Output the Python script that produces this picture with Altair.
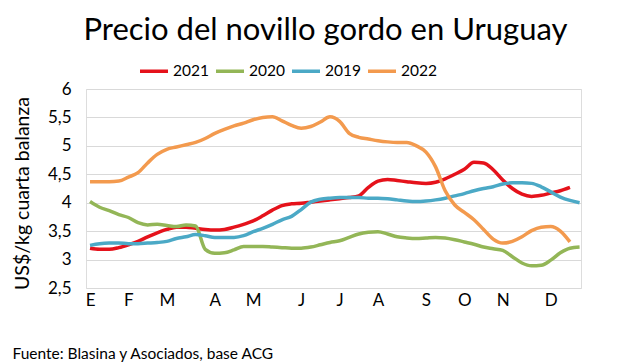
import altair as alt
import pandas as pd

weeks = list(range(52))

v2021 = [3.20, 3.18, 3.18, 3.21, 3.26, 3.32, 3.40, 3.47, 3.53, 3.57, 3.57, 3.55, 3.53,
         3.52, 3.53, 3.57, 3.62, 3.68, 3.77, 3.87, 3.95, 3.98, 3.99, 4.01, 4.03, 4.05,
         4.07, 4.09, 4.12, 4.27, 4.38, 4.41, 4.39, 4.37, 4.35, 4.34, 4.36, 4.42, 4.50,
         4.59, 4.71, 4.70, 4.58, 4.40, 4.25, 4.15, 4.11, 4.13, 4.17, 4.21, 4.27]

v2020 = [4.02, 3.92, 3.86, 3.79, 3.74, 3.65, 3.61, 3.62, 3.60, 3.58, 3.61, 3.59, 3.18,
         3.11, 3.12, 3.17, 3.23, 3.23, 3.23, 3.22, 3.21, 3.20, 3.20, 3.22, 3.26, 3.30,
         3.33, 3.39, 3.45, 3.48, 3.49, 3.45, 3.40, 3.38, 3.37, 3.38, 3.39, 3.38, 3.35,
         3.31, 3.27, 3.22, 3.19, 3.16, 3.05, 2.94, 2.89, 2.90, 2.99, 3.12, 3.20, 3.22]

v2019 = [3.25, 3.28, 3.29, 3.29, 3.28, 3.28, 3.29, 3.30, 3.32, 3.37, 3.40, 3.44, 3.42,
         3.39, 3.39, 3.39, 3.42, 3.49, 3.55, 3.62, 3.70, 3.76, 3.88, 4.01, 4.06, 4.08,
         4.09, 4.09, 4.09, 4.08, 4.08, 4.07, 4.05, 4.03, 4.02, 4.03, 4.05, 4.08, 4.12,
         4.16, 4.21, 4.25, 4.28, 4.33, 4.35, 4.35, 4.34, 4.28, 4.19, 4.10, 4.04, 4.00]

v2022 = [4.37, 4.37, 4.37, 4.38, 4.45, 4.53, 4.70, 4.85, 4.94, 4.98, 5.02, 5.06, 5.13,
         5.22, 5.29, 5.35, 5.40, 5.46, 5.50, 5.51, 5.44, 5.36, 5.31, 5.34, 5.42, 5.51,
         5.43, 5.22, 5.15, 5.12, 5.09, 5.07, 5.06, 5.06, 5.00, 4.89, 4.63, 4.21, 3.96,
         3.83, 3.70, 3.53, 3.36, 3.29, 3.32, 3.40, 3.51, 3.57, 3.58, 3.50, 3.31]

series_names = ["2021", "2020", "2019", "2022"]
series_colors = ["#E5121B", "#93B657", "#4BA9C6", "#F39A4E"]
month_ticks = [0, 4, 8, 13, 17, 22, 26, 30, 35, 39, 43, 48]
month_labels = ["E", "F", "M", "A", "M", "J", "J", "A", "S", "O", "N", "D"]
y_ticks = [2.5, 3, 3.5, 4, 4.5, 5, 5.5, 6]

rows = []
for name, vals in zip(series_names, [v2021, v2020, v2019, v2022]):
    for w, v in zip(weeks, vals):
        rows.append({"serie": name, "semana": w, "precio": v})
df = pd.DataFrame(rows)

label_expr = ("[" + ",".join("'" + m + "'" for m in month_labels) + "][indexof(["
              + ",".join(str(t) for t in month_ticks) + "], datum.value)]")

FONT = "Lato"

chart = alt.Chart(df).mark_line(strokeWidth=3.5, interpolate="monotone").encode(
    x=alt.X("semana:Q",
            scale=alt.Scale(domain=[-0.42, 51.15], nice=False, zero=False),
            axis=alt.Axis(values=month_ticks, labelExpr=label_expr, grid=False,
                          domain=False, ticks=False, labelPadding=4,
                          labelFontSize=17, labelFont=FONT, labelColor="#000000",
                          title="Fuente: Blasina y Asociados, base ACG",
                          titleFont=FONT, titleFontSize=15.5, titleFontWeight="normal",
                          titleColor="#000000", titleAnchor="start", titleAlign="left",
                          titleX=-74, titleY=65, titleBaseline="middle")),
    y=alt.Y("precio:Q",
            scale=alt.Scale(domain=[2.5, 6], nice=False, zero=False),
            axis=alt.Axis(values=y_ticks,
                          labelExpr="replace(format(datum.value, '.1~f'), '.', ',')",
                          domain=False, ticks=False, gridColor="#D9D9D9", gridWidth=1.2,
                          labelPadding=15, labelFontSize=17, labelFont=FONT,
                          labelColor="#000000",
                          title="US$/kg cuarta balanza", titleFont=FONT,
                          titleFontSize=19.5, titleFontWeight="normal", titleColor="#000000",
                          titleX=-54, titleY=104, titleAnchor="middle")),
    color=alt.Color("serie:N",
                    scale=alt.Scale(domain=series_names, range=series_colors),
                    sort=series_names,
                    legend=alt.Legend(orient="none", direction="horizontal",
                                      legendX=52, legendY=-34, title=None,
                                      symbolType="stroke", symbolStrokeWidth=3.5,
                                      symbolSize=784, labelFont=FONT, labelFontSize=15.5,
                                      labelColor="#000000", columnPadding=0,
                                      labelOffset=3)),
).properties(
    width=495,
    height=199,
    title=alt.TitleParams("Precio del novillo gordo en Uruguay", font=FONT,
                          fontSize=31, fontWeight="normal", color="#000000",
                          anchor="middle", dx=-8, offset=8),
    autosize=alt.AutoSizeParams(type="none"),
    padding={"left": 78, "top": 81, "right": 40, "bottom": 80},
).configure_view(stroke=None).configure(background="white")

chart.save("out.html", embed_options={"renderer": "svg", "actions": False})
